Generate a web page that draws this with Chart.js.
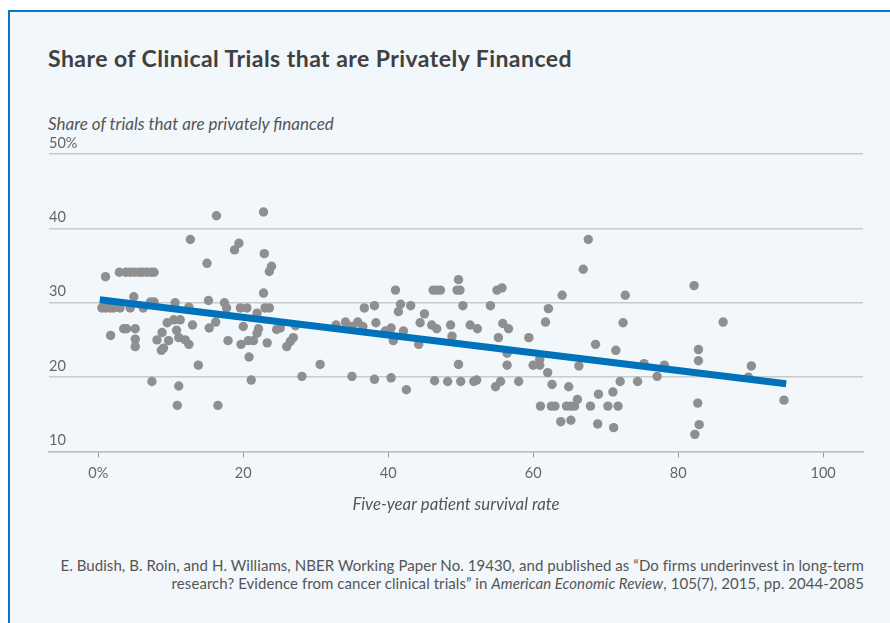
<!DOCTYPE html>
<html>
<head>
<meta charset="utf-8">
<script src="https://cdn.jsdelivr.net/npm/chart.js@4.4.0/dist/chart.umd.min.js"></script>
<style>
    html, body { margin: 0; padding: 0; width: 890px; height: 623px; overflow: hidden; background: #fff; font-family: Lato, sans-serif; }
    #card { position: absolute; left: 8px; top: 10px; width: 1000px; height: 800px; border: 2px solid #0a77c2; background: #f2f7fb; }
    .txt { position: absolute; white-space: nowrap; margin: 0; }
    #title { left: 48px; top: 44px; font-size: 23px; line-height: 28px; font-weight: 700; letter-spacing: 0.45px; color: #404040; }
    #ytitle { left: 48px; top: 114px; font-size: 17px; line-height: 20px; font-style: italic; color: #555; }
    #source { right: 26px; top: 556px; font-size: 15px; line-height: 18px; letter-spacing: 0.07px; color: #555; text-align: right; }
    #myChart { position: absolute; left: 0; top: 130px; }
</style>
</head>
<body>
<div id="card"></div>
<h1 class="txt" id="title">Share of Clinical Trials that are Privately Financed</h1>
<div class="txt" id="ytitle">Share of trials that are privately financed</div>
<canvas id="myChart" width="890" height="393"></canvas>
<div class="txt" id="source">E. Budish, B. Roin, and H. Williams, NBER Working Paper No. 19430, and published as “Do firms underinvest in long-term<br>research? Evidence from cancer clinical trials” in <i>American Economic Review</i>, 105(7), 2015, pp. 2044-2085</div>

<script>
// x: five-year survival rate (%), y: share privately financed (%)
const survivalRate = [
    1.0, 2.1, 2.9, 3.8, 4.4, 5.0, 5.6, 6.1, 6.7, 7.3, 7.7, 4.9, 7.2, 7.7,
    0.5, 1.0, 1.6, 2.1, 3.0, 4.4, 6.2, 3.5, 3.9, 5.1, 1.7, 5.1, 5.1, 7.4,
    8.1, 8.8, 9.0, 8.7, 9.5, 9.7, 10.4, 11.3, 10.6, 10.8, 11.1, 12.0, 12.5, 11.1,
    10.9, 12.5, 12.7, 13.0, 13.8, 15.0, 15.2, 15.3, 16.2, 16.3, 16.5, 17.4, 17.7, 17.9,
    18.8, 19.4, 19.6, 20.5, 19.7, 20.0, 20.7, 21.4, 20.8, 21.1, 21.9, 22.1, 21.9, 22.8,
    22.9, 22.8, 23.0, 23.6, 23.3, 23.9, 23.6, 24.6, 25.1, 26.0, 26.5, 26.9, 27.2, 28.1,
    30.6, 32.8, 34.1, 35.0, 35.0, 35.8, 36.5, 36.7, 38.1, 38.3, 38.1, 39.6, 40.4, 40.4,
    40.7, 41.0, 41.7, 41.4, 42.1, 42.5, 43.1, 44.4, 45.0, 44.2, 46.0, 46.7, 46.2, 46.7,
    47.2, 46.4, 48.2, 48.6, 48.8, 49.5, 49.9, 49.7, 49.7, 50.0, 50.3, 51.3, 52.3, 51.8,
    52.2, 54.1, 54.8, 55.5, 55.0, 55.7, 55.8, 56.6, 55.2, 56.4, 56.4, 58.0, 59.4, 60.0,
    60.9, 60.9, 61.0, 62.5, 63.0, 61.7, 62.1, 62.0, 62.6, 63.8, 64.0, 64.6, 65.2, 65.7,
    64.9, 65.2, 66.1, 66.3, 66.9, 67.6, 67.9, 68.6, 69.0, 68.9, 70.3, 71.0, 71.1, 71.4,
    71.7, 72.0, 72.4, 72.7, 74.4, 75.3, 77.1, 78.1, 82.2, 82.8, 82.8, 82.7, 82.9, 82.3,
    86.2, 90.1, 89.7, 94.6
];
const privateShare = [
    33.5, 50.8, 34.1, 34.1, 34.1, 34.1, 34.1, 34.1, 34.1, 34.1, 34.1, 30.8, 30.1, 30.1,
    29.3, 29.3, 29.3, 29.3, 29.3, 29.3, 29.3, 26.5, 26.5, 26.5, 25.6, 25.1, 24.1, 19.4,
    25.0, 26.0, 23.9, 23.6, 27.3, 24.9, 27.7, 27.7, 30.0, 26.3, 25.3, 25.0, 24.4, 18.8,
    16.2, 29.4, 38.5, 27.0, 21.6, 35.3, 30.3, 26.6, 27.4, 41.7, 16.2, 30.0, 29.3, 24.9,
    37.1, 38.0, 29.3, 29.3, 24.4, 26.8, 24.9, 24.9, 22.7, 19.6, 25.9, 26.5, 28.6, 42.2,
    36.6, 31.3, 29.3, 29.3, 24.6, 34.9, 34.2, 26.4, 26.6, 24.1, 24.8, 25.3, 26.9, 20.1,
    21.7, 27.0, 27.4, 26.8, 20.1, 27.4, 26.8, 29.3, 29.6, 27.3, 19.7, 26.2, 26.6, 19.9,
    24.9, 31.7, 29.8, 28.8, 26.2, 18.3, 29.6, 27.3, 28.5, 24.4, 27.0, 26.5, 31.7, 31.7,
    31.7, 19.5, 19.4, 27.0, 25.5, 31.7, 31.7, 33.1, 21.7, 19.4, 29.6, 27.0, 26.5, 19.4,
    19.6, 29.6, 18.7, 19.4, 31.7, 32.0, 27.2, 26.5, 25.3, 23.2, 21.6, 19.4, 25.3, 21.6,
    21.6, 22.4, 16.1, 16.1, 16.1, 27.4, 29.2, 20.6, 19.0, 14.0, 31.0, 16.1, 16.1, 16.1,
    18.7, 14.2, 17.0, 21.5, 34.5, 38.5, 16.1, 24.4, 17.7, 13.7, 16.1, 18.0, 13.2, 23.6,
    16.1, 19.4, 27.3, 31.0, 19.4, 21.8, 20.1, 21.6, 32.3, 23.7, 22.2, 16.5, 13.6, 12.3,
    27.4, 21.5, 20.0, 16.9
];

// fitted trend line end points
const fitX = [0.2, 94.9];
const fitY = [30.4, 19.1];

const xTicks = [0, 20, 40, 60, 80, 100];
const xTickLabels = ['0%', '20', '40', '60', '80', '100'];
const yTicks = [10, 20, 30, 40, 50];
const yTickLabels = ['10', '20', '30', '40', '50%'];

const tickFont = { family: 'Lato', size: 14.5 };

const points = survivalRate.map((x, i) => ({ x: x, y: privateShare[i] }));
const trend = fitX.map((x, i) => ({ x: x, y: fitY[i] }));

const ctx = document.getElementById('myChart').getContext('2d');
new Chart(ctx, {
    type: 'scatter',
    data: {
        datasets: [
            {
                type: 'line',
                data: trend,
                borderColor: '#0072bc',
                borderWidth: 7,
                borderCapStyle: 'butt',
                pointRadius: 0,
                fill: false,
                order: 0
            },
            {
                data: points,
                backgroundColor: '#8f8f8f',
                borderWidth: 0,
                pointRadius: 4.7,
                pointHoverRadius: 4.7,
                order: 1
            }
        ]
    },
    options: {
        responsive: false,
        animation: false,
        layout: { padding: { left: 49, right: 27, top: 24, bottom: 8 } },
        plugins: { legend: { display: false }, tooltip: { enabled: false } },
        scales: {
            x: {
                type: 'linear',
                min: -6.8,
                max: 105.5,
                afterBuildTicks: axis => { axis.ticks = xTicks.map(v => ({ value: v })); },
                grid: { drawOnChartArea: false, drawTicks: true, tickLength: 6, color: '#999', lineWidth: 1 },
                border: { color: '#bdbdbd', width: 1.5 },
                ticks: {
                    padding: 7,
                    color: '#666',
                    font: tickFont,
                    maxRotation: 0,
                    callback: (v, i) => xTickLabels[i]
                },
                title: {
                    display: true,
                    text: 'Five-year patient survival rate',
                    color: '#555',
                    font: { family: 'Lato', size: 16.8, style: 'italic' },
                    padding: { top: 6, bottom: 0 }
                }
            },
            y: {
                type: 'linear',
                min: 10,
                max: 50,
                afterBuildTicks: axis => { axis.ticks = yTicks.map(v => ({ value: v })); },
                grid: { color: '#c9cacc', lineWidth: 1.5, drawTicks: false },
                border: { display: false },
                ticks: {
                    mirror: true,
                    padding: 0,
                    labelOffset: -11,
                    color: '#666',
                    font: tickFont,
                    callback: (v, i) => yTickLabels[i]
                }
            }
        }
    }
});
</script>
</body>
</html>
